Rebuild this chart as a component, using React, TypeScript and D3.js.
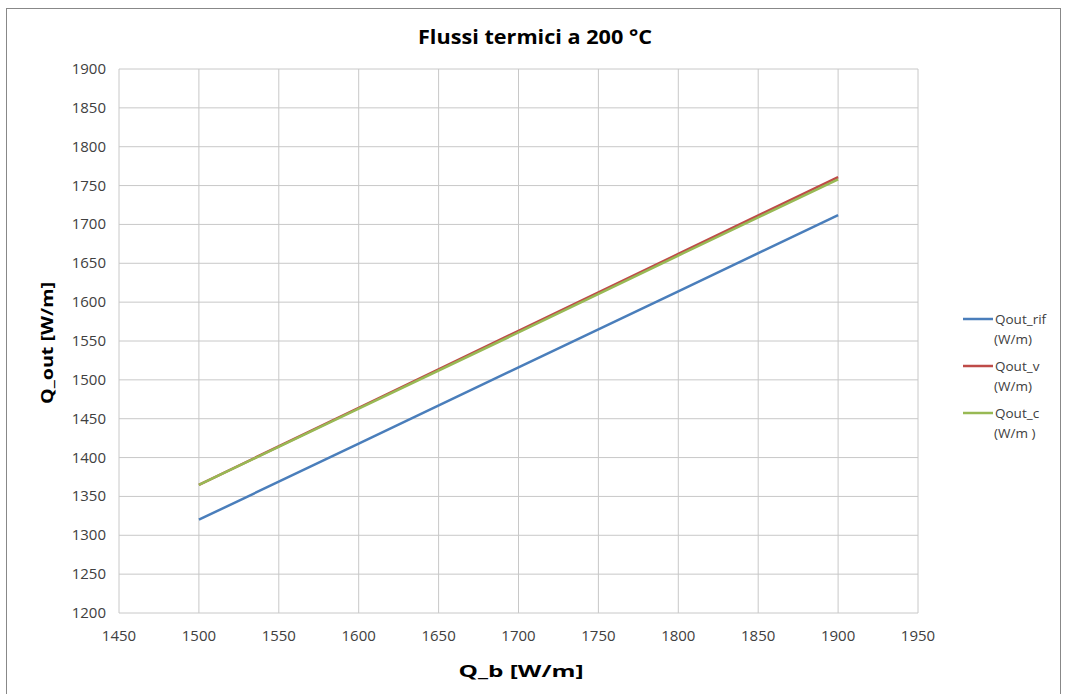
import React from "react";
import * as d3 from "d3";

const xValues = [1500, 1600, 1700, 1800, 1900];
const qoutRif = [1320, 1418, 1516, 1614, 1712];
const qoutV = [1365, 1464, 1563, 1662, 1761];
const qoutC = [1365, 1463, 1561, 1660, 1758];
const xTicks = [1450, 1500, 1550, 1600, 1650, 1700, 1750, 1800, 1850, 1900, 1950];
const yTicks = [1200, 1250, 1300, 1350, 1400, 1450, 1500, 1550, 1600, 1650, 1700, 1750, 1800, 1850, 1900];

const series = [
  { name: "Qout_rif", unit: "(W/m)", values: qoutRif, color: "#4a7ebb" },
  { name: "Qout_v", unit: "(W/m)", values: qoutV, color: "#be4b48" },
  { name: "Qout_c", unit: "(W/m )", values: qoutC, color: "#98b954" },
];

export default function App() {
  const W = 1065, H = 694;
  const left = 119, right = 918, top = 69, bottom = 613;
  const x = d3.scaleLinear().domain([1450, 1950]).range([left, right]);
  const y = d3.scaleLinear().domain([1200, 1900]).range([bottom, top]);
  const line = d3.line<number>().x((_, i) => x(xValues[i])).y((d) => y(d));
  const font = "'Open Sans', 'Liberation Sans', sans-serif";
  const legendY = [319, 366, 413];
  return (
    <div style={{ position: "fixed", left: 0, top: 0 }}>
      <svg width={W} height={H} style={{ display: "block", fontFamily: font }}>
        <rect x={0} y={0} width={W} height={H} fill="#fff" />
        <rect x={6.5} y={8.5} width={1054} height={700} fill="#fff" stroke="#888" strokeWidth={1} />
        {xTicks.map((t) => (
          <line key={"gx" + t} x1={x(t)} x2={x(t)} y1={top} y2={bottom} stroke="#c8c8c8" strokeWidth={1} />
        ))}
        {yTicks.map((t) => (
          <line key={"gy" + t} x1={left} x2={right} y1={y(t)} y2={y(t)} stroke="#c8c8c8" strokeWidth={1} />
        ))}
        {xTicks.map((t) => (
          <text key={"tx" + t} x={x(t)} y={bottom + 28} textAnchor="middle" fontSize={15} fill="#404040">{t}</text>
        ))}
        {yTicks.map((t) => (
          <text key={"ty" + t} x={left - 13} y={y(t) + 5} textAnchor="end" fontSize={15} fill="#404040">{t}</text>
        ))}
        {series.map((s) => (
          <path key={s.name} d={line(s.values) || ""} fill="none" stroke={s.color} strokeWidth={2.5} />
        ))}
        <text x={535} y={44} textAnchor="middle" fontSize={19} fontWeight="bold" fill="#000" textLength={234} lengthAdjust="spacingAndGlyphs">Flussi termici a 200 °C</text>
        <text x={521} y={677} textAnchor="middle" fontSize={16} fontWeight="bold" fill="#000" textLength={125} lengthAdjust="spacingAndGlyphs">Q_b  [W/m]</text>
        <text transform={`translate(53,343) rotate(-90)`} textAnchor="middle" fontSize={16} fontWeight="bold" fill="#000" textLength={122} lengthAdjust="spacingAndGlyphs">Q_out  [W/m]</text>
        {series.map((s, i) => (
          <g key={"lg" + s.name}>
            <line x1={963} x2={993} y1={legendY[i]} y2={legendY[i]} stroke={s.color} strokeWidth={2.5} />
            <text x={995} y={legendY[i] + 5} fontSize={13.5} fill="#404040">{s.name}</text>
            <text x={994} y={legendY[i] + 25} fontSize={13.5} fill="#404040">{s.unit}</text>
          </g>
        ))}
      </svg>
    </div>
  );
}
